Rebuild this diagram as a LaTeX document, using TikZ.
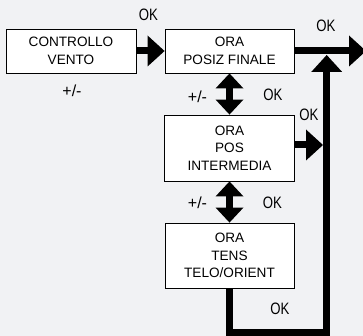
\documentclass[tikz,border=0pt]{standalone}
\usepackage{fontspec}
\setmainfont{Liberation Sans}
\newfontfamily\condf[FakeStretch=0.8]{Liberation Sans}
\usetikzlibrary{arrows.meta}
\definecolor{bgc}{RGB}{241,242,244}
\tikzset{
  box/.style={draw=black, line width=0.9pt, fill=white, inner sep=0pt, align=center,
    font=\fontsize{13.6}{17.5}\selectfont},
  lbl/.style={inner sep=0pt, font=\condf\fontsize{16.5}{18}\selectfont},
  pml/.style={inner sep=0pt, font=\fontsize{16}{18}\selectfont},
  head/.tip={Triangle[width=31pt,length=17pt,line width=0pt]},
  dhead/.tip={Triangle[width=28pt,length=15pt,line width=0pt]},
  bigarrow/.style={line width=7pt, -{head}},
  dblarrow/.style={line width=7.5pt, {dhead}-{dhead}},
}
\begin{document}
\begin{tikzpicture}[x=1pt,y=-1pt]
\fill[bgc] (0,0) rectangle (363,336);
\useasboundingbox (0,0) rectangle (363,336);
\node[box, minimum width=130pt, minimum height=44pt] (b1) at (71,51) {CONTROLLO\\VENTO};
\node[box, minimum width=129pt, minimum height=44pt] (b2) at (229.5,51) {ORA\\POSIZ FINALE};
\node[box, minimum width=130pt, minimum height=66pt] (b3) at (229.5,148) {ORA\\POS\\INTERMEDIA};
\node[box, minimum width=129pt, minimum height=65pt] (b4) at (229.5,255.5) {ORA\\TENS\\TELO/ORIENT};
\coordinate (out) at (366,51);
\coordinate (lb) at (229.5,332.5);
\coordinate (rb) at (326.7,332.5);
\coordinate (top) at (326.7,55);
\coordinate (hit) at (323,145);
\draw[bigarrow] (b1) -- (b2);
\draw[bigarrow] (b2) -- (out);
\draw[dblarrow] (b2) -- (b3);
\draw[dblarrow] (b3) -- (b4);
\draw[bigarrow] ([yshift=3pt]b3.east) -- (hit);
\draw[bigarrow, line join=miter] (b4.south) -- (lb) -- (rb) -- (top);
\node[lbl] (ok1) at (148.5,15) {OK};
\node[lbl] (ok2) at (326,26) {OK};
\node[lbl] (ok3) at (309,115) {OK};
\node[lbl] (ok4) at (273,95) {OK};
\node[lbl] (ok5) at (272.5,203) {OK};
\node[lbl] (ok6) at (280,309) {OK};
\node[pml] (pm1) at (72,91) {+/-};
\node[pml] (pm2) at (197.5,96.5) {+/-};
\node[pml] (pm3) at (197.5,203) {+/-};
\end{tikzpicture}
\end{document}
